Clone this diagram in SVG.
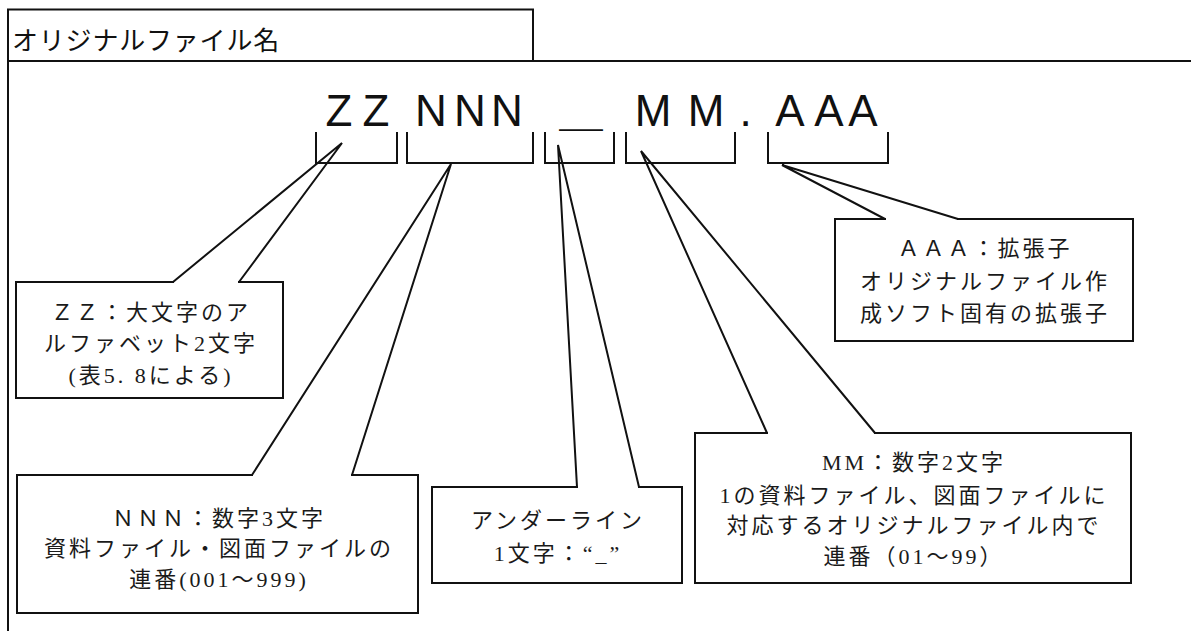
<svg xmlns="http://www.w3.org/2000/svg" width="1191" height="631" viewBox="0 0 1191 631">
<style>
.ln{fill:none;stroke:#111;stroke-width:2;stroke-linejoin:miter;stroke-linecap:square}
.cn{fill:none;stroke:#111;stroke-width:2;stroke-linejoin:miter;stroke-linecap:butt}
.big{font-family:"Liberation Sans","Noto Sans CJK JP",sans-serif;font-size:44px;fill:#111;text-anchor:middle}
.ttl{font-family:"Noto Sans CJK JP",sans-serif;font-size:26px;fill:#111;letter-spacing:0.8px}
.lb{font-family:"Liberation Serif","Noto Sans CJK JP",serif;font-size:22px;fill:#1a1a1a;text-anchor:middle;letter-spacing:3px}
</style>
<rect width="1191" height="631" fill="#fff"/>
<g id="frame">
<path class="ln" d="M8,631 V9.5 H533 V61"/>
<path class="ln" d="M8,61 H1191"/>
<text class="ttl" x="12" y="50">オリジナルファイル名</text>
</g>
<g id="filename">
<text class="big" x="339 376 431 470 507 581 653 706 745.5 790 829 863" y="126">ZZNNN＿MM.AAA</text>
<path class="ln" d="M316,133 V163 H397 V133 M407,133 V163 H533 V133 M545,133 V163 H614 V133 M626,133 V163 H735 V133 M768,133 V163 H888 V133"/>
</g>
<g id="node-zz">
<path class="ln" d="M239,282 H283 V398 H16 V282 H173"/>
<text class="lb" x="151" y="320">ＺＺ：大文字のア</text>
<text class="lb" x="151" y="351">ルファベット2文字</text>
<text class="lb" x="151" y="383">(表5. 8による)</text>
</g>
<g id="node-nnn">
<path class="ln" d="M352,475 H418 V613 H17 V475 H252"/>
<text class="lb" x="219" y="526">ＮＮＮ：数字3文字</text>
<text class="lb" x="219" y="556">資料ファイル・図面ファイルの</text>
<text class="lb" x="219" y="587">連番(001～999)</text>
</g>
<g id="node-underline">
<path class="ln" d="M639,487 H682 V583 H432 V487 H577"/>
<text class="lb" x="558" y="528">アンダーライン</text>
<text class="lb" x="558" y="561">1文字：“_”</text>
</g>
<g id="node-mm">
<path class="ln" d="M875,433 H1131 V583 H695 V433 H767"/>
<text class="lb" x="914" y="470">MM：数字2文字</text>
<text class="lb" x="914" y="503">1の資料ファイル、図面ファイルに</text>
<text class="lb" x="914" y="533">対応するオリジナルファイル内で</text>
<text class="lb" x="914" y="564">連番（01～99）</text>
</g>
<g id="node-aaa">
<path class="ln" d="M958,219 H1133 V341 H835 V219 H885"/>
<text class="lb" x="985" y="256">ＡＡＡ：拡張子</text>
<text class="lb" x="985" y="289">オリジナルファイル作</text>
<text class="lb" x="985" y="321">成ソフト固有の拡張子</text>
</g>
<g id="connectors">
<path class="cn" d="M173,282 L342,143 L239,282"/>
<path class="cn" d="M252,475 L451,164 L352,475"/>
<path class="cn" d="M577,487 L558,145 L639,487"/>
<path class="cn" d="M767,433 L641,151 L875,433"/>
<path class="cn" d="M885,219 L782,165 L958,219"/>
</g>
</svg>
